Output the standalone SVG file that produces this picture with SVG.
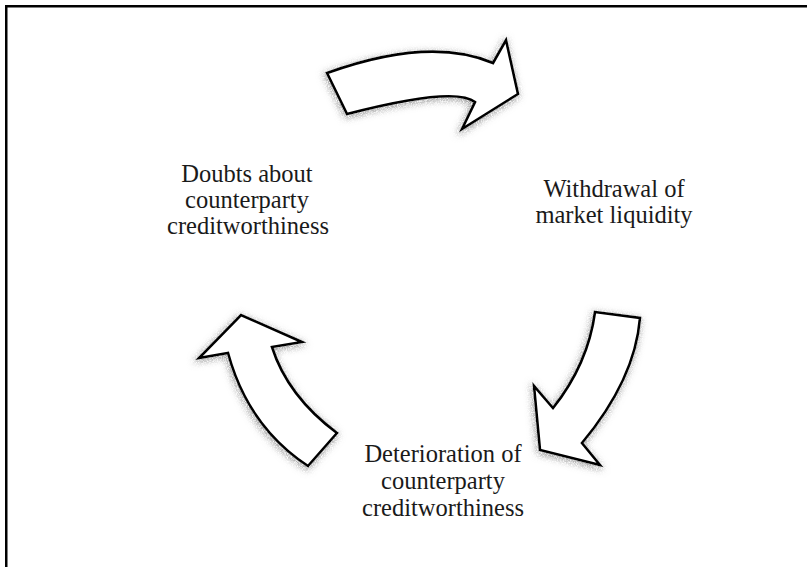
<svg xmlns="http://www.w3.org/2000/svg" width="807" height="567" viewBox="0 0 807 567">
<defs>
<style>
.lbl{font-family:"Liberation Serif","Times New Roman",serif;font-size:24.5px;fill:#1a1a1a;text-anchor:middle}
.arr{fill:#fff;stroke:#000;stroke-width:2.6;stroke-linejoin:miter}
</style>
<filter id="sh" x="-30%" y="-30%" width="160%" height="160%">
<feMorphology in="SourceAlpha" operator="dilate" radius="1" result="d"/>
<feGaussianBlur in="d" stdDeviation="3.5" result="b"/>
<feOffset in="b" dx="-1" dy="2" result="o"/>
<feTurbulence type="fractalNoise" baseFrequency="1.2" numOctaves="1" seed="3" result="n"/>
<feColorMatrix in="n" type="matrix" values="0 0 0 0 0.3  0 0 0 0 0.3  0 0 0 0 0.3  2.6 0 0 0 -0.6" result="nm"/>
<feComposite in="nm" in2="o" operator="in" result="grain"/>
<feMerge><feMergeNode in="grain"/><feMergeNode in="SourceGraphic"/></feMerge>
</filter>
</defs>
<rect x="6.25" y="6.25" width="820" height="580" fill="#fff" stroke="#000" stroke-width="2.5"/>
<g id="connectors">
<path id="arrow-top" class="arr" filter="url(#sh)" d="M327,73 Q430,36 493,63 L506,40 L518,94 L462,129 L475,102 Q455,86 347,114 Z"/>
<path id="arrow-right" class="arr" filter="url(#sh)" d="M595,312 L640,318 Q635,379.5 582,443 L600,465 L540,450 L534,386 L553,408 Q588,364 595,312 Z"/>
<path id="arrow-left" class="arr" filter="url(#sh)" d="M308,466 L337,433 Q287.5,396 272,347 L302,342 L241,315 L199,358 L228,353 Q248,426.5 308,466 Z"/>
</g>
<g id="node-doubts">
<text class="lbl" x="247" y="182">Doubts about</text>
<text class="lbl" x="247" y="208">counterparty</text>
<text class="lbl" x="248" y="234">creditworthiness</text>
</g>
<g id="node-withdrawal">
<text class="lbl" x="614" y="197">Withdrawal of</text>
<text class="lbl" x="614" y="223">market liquidity</text>
</g>
<g id="node-deterioration">
<text class="lbl" x="443" y="462">Deterioration of</text>
<text class="lbl" x="443" y="489">counterparty</text>
<text class="lbl" x="443" y="516">creditworthiness</text>
</g>
</svg>
